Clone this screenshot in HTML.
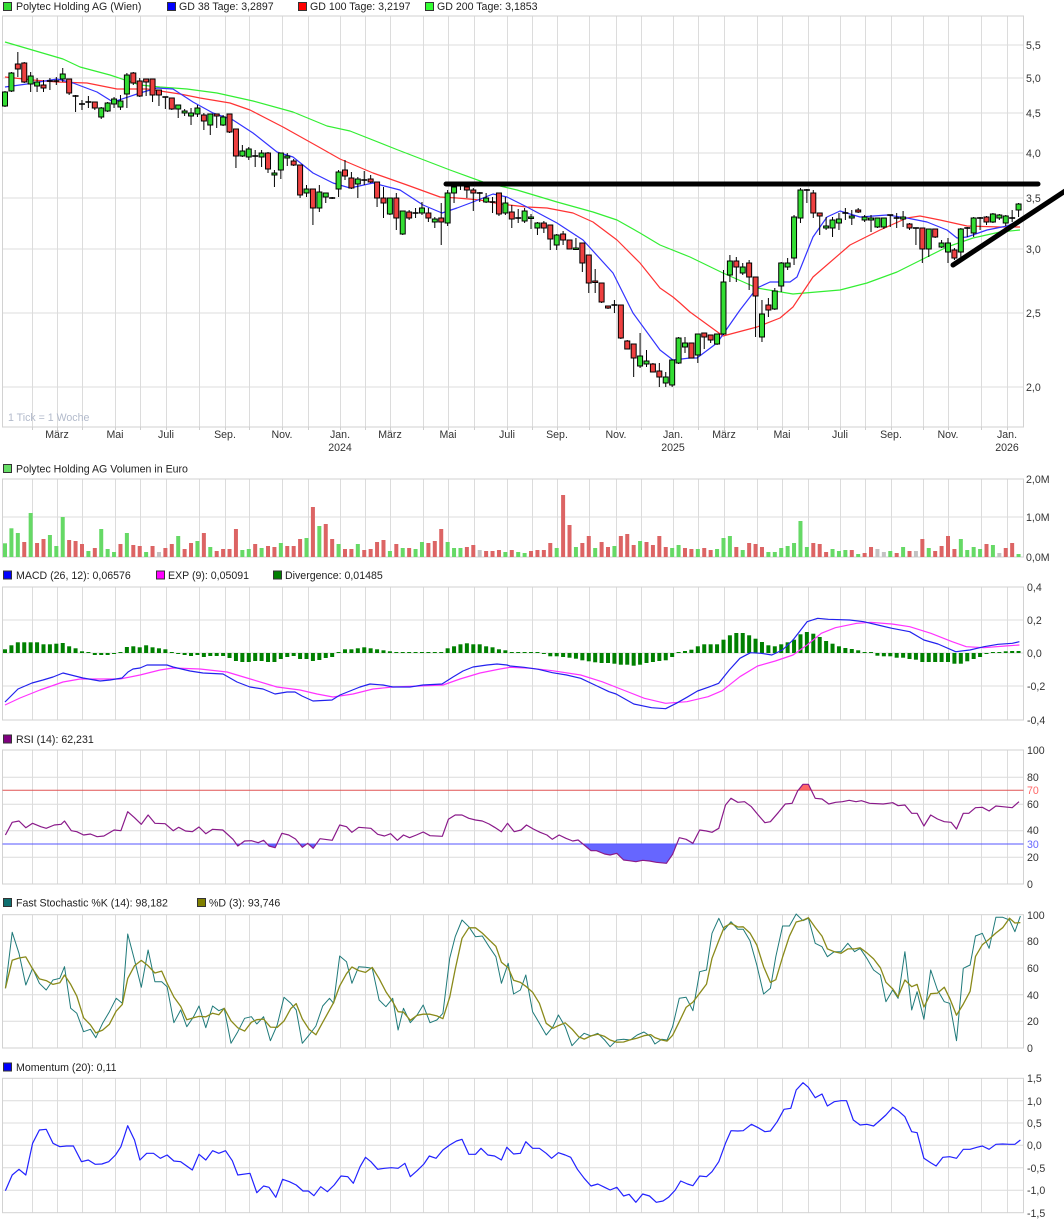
<!DOCTYPE html>
<html><head><meta charset="utf-8"><title>Polytec Holding AG Chart</title>
<style>
html,body{margin:0;padding:0;background:#fff;overflow:hidden;}
svg{display:block;}
text{font-family:"Liberation Sans",Arial,sans-serif;font-size:10.6px;fill:#222;}
.ax{fill:#333;}
.xl{text-anchor:middle;fill:#333;}
</style></head>
<body>
<svg id="c" width="1064" height="1223" viewBox="0 0 1064 1223" xmlns="http://www.w3.org/2000/svg">
<defs>
<clipPath id="cb"><rect x="0" y="844" width="1064" height="40"/></clipPath>
<clipPath id="cr"><rect x="0" y="740" width="1064" height="50.3"/></clipPath>
</defs>
<rect x="0" y="0" width="1064" height="1223" fill="#fff"/>
<g id="grid"></g>
<g id="ser"></g>
<line x1="446" y1="184" x2="1038" y2="184" stroke="#000" stroke-width="5" stroke-linecap="round"/>
<line x1="953" y1="265" x2="1075" y2="184.5" stroke="#000" stroke-width="5" stroke-linecap="round"/>

<!-- legends -->
<rect x="3.5" y="2.5" width="8" height="8" fill="#33dd33" stroke="#333"/>
<text x="16" y="10">Polytec Holding AG (Wien)</text>
<rect x="167.5" y="2.5" width="8" height="8" fill="#0000ff" stroke="#333"/>
<text x="179" y="10">GD 38 Tage: 3,2897</text>
<rect x="298.5" y="2.5" width="8" height="8" fill="#ff0000" stroke="#333"/>
<text x="310" y="10">GD 100 Tage: 3,2197</text>
<rect x="425.5" y="2.5" width="8" height="8" fill="#33ff33" stroke="#333"/>
<text x="437" y="10">GD 200 Tage: 3,1853</text>

<text x="8" y="421" style="fill:#b2bacb">1 Tick = 1 Woche</text>

<text class="ax" x="1026" y="49">5,5</text>
<text class="ax" x="1026" y="82">5,0</text>
<text class="ax" x="1026" y="117">4,5</text>
<text class="ax" x="1026" y="157">4,0</text>
<text class="ax" x="1026" y="202">3,5</text>
<text class="ax" x="1026" y="253">3,0</text>
<text class="ax" x="1026" y="317">2,5</text>
<text class="ax" x="1026" y="391">2,0</text>

<text class="xl" x="57" y="438">März</text>
<text class="xl" x="115" y="438">Mai</text>
<text class="xl" x="166" y="438">Juli</text>
<text class="xl" x="225" y="438">Sep.</text>
<text class="xl" x="282" y="438">Nov.</text>
<text class="xl" x="340" y="438">Jan.</text>
<text class="xl" x="340" y="451">2024</text>
<text class="xl" x="390" y="438">März</text>
<text class="xl" x="448" y="438">Mai</text>
<text class="xl" x="507" y="438">Juli</text>
<text class="xl" x="557" y="438">Sep.</text>
<text class="xl" x="616" y="438">Nov.</text>
<text class="xl" x="673" y="438">Jan.</text>
<text class="xl" x="673" y="451">2025</text>
<text class="xl" x="724" y="438">März</text>
<text class="xl" x="782" y="438">Mai</text>
<text class="xl" x="840" y="438">Juli</text>
<text class="xl" x="891" y="438">Sep.</text>
<text class="xl" x="948" y="438">Nov.</text>
<text class="xl" x="1007" y="438">Jan.</text>
<text class="xl" x="1007" y="451">2026</text>

<rect x="3.5" y="464.5" width="8" height="8" fill="#66dd66" stroke="#333"/>
<text x="16" y="472.5">Polytec Holding AG Volumen in Euro</text>
<text class="ax" x="1026" y="483">2,0M</text>
<text class="ax" x="1026" y="521">1,0M</text>
<text class="ax" x="1026" y="561">0,0M</text>

<rect x="3.5" y="571" width="8" height="8" fill="#0000ff" stroke="#333"/>
<text x="16" y="579">MACD (26, 12): 0,06576</text>
<rect x="156.5" y="571" width="8" height="8" fill="#ff00ff" stroke="#333"/>
<text x="168" y="579">EXP (9): 0,05091</text>
<rect x="273.5" y="571" width="8" height="8" fill="#008000" stroke="#333"/>
<text x="285" y="579">Divergence: 0,01485</text>
<text class="ax" x="1027" y="591">0,4</text>
<text class="ax" x="1027" y="624">0,2</text>
<text class="ax" x="1027" y="657">0,0</text>
<text class="ax" x="1027" y="690">-0,2</text>
<text class="ax" x="1027" y="724">-0,4</text>

<rect x="3.5" y="735" width="8" height="8" fill="#800080" stroke="#333"/>
<text x="16" y="743">RSI (14): 62,231</text>
<text class="ax" x="1027" y="754">100</text>
<text class="ax" x="1027" y="781">80</text>
<text x="1027" y="794" style="fill:#ff6666">70</text>
<text class="ax" x="1027" y="808">60</text>
<text class="ax" x="1027" y="834">40</text>
<text x="1027" y="848" style="fill:#6666ff">30</text>
<text class="ax" x="1027" y="861">20</text>
<text class="ax" x="1027" y="888">0</text>

<rect x="3.5" y="898.5" width="8" height="8" fill="#0f6f6f" stroke="#333"/>
<text x="16" y="906.5">Fast Stochastic %K (14): 98,182</text>
<rect x="197.5" y="898.5" width="8" height="8" fill="#808000" stroke="#333"/>
<text x="209" y="906.5">%D (3): 93,746</text>
<text class="ax" x="1027" y="919">100</text>
<text class="ax" x="1027" y="945">80</text>
<text class="ax" x="1027" y="972">60</text>
<text class="ax" x="1027" y="999">40</text>
<text class="ax" x="1027" y="1025">20</text>
<text class="ax" x="1027" y="1052">0</text>

<rect x="3.5" y="1063" width="8" height="8" fill="#0000ff" stroke="#333"/>
<text x="16" y="1071">Momentum (20): 0,11</text>
<text class="ax" x="1027" y="1082">1,5</text>
<text class="ax" x="1027" y="1105">1,0</text>
<text class="ax" x="1027" y="1127">0,5</text>
<text class="ax" x="1027" y="1149">0,0</text>
<text class="ax" x="1027" y="1172">-0,5</text>
<text class="ax" x="1027" y="1194">-1,0</text>
<text class="ax" x="1027" y="1217">-1,5</text>
</svg>
<script>
(function(){
var NS='http://www.w3.org/2000/svg';
function E(t,a,p){var e=document.createElementNS(NS,t);for(var k in a)e.setAttribute(k,a[k]);p.appendChild(e);return e;}
var G=document.getElementById('grid'),S=document.getElementById('ser');
function X(i){return 5+i*6.415;}
var M=[32,57,82,115,140,166,199,225,249,282,308,340,365,390,423,448,474,507,532,557,589,616,641,673,698,724,757,782,808,840,865,891,923,948,981,1007];
var P=[[16,427,[45,78,113,153,198,249,313,387]],[479,557,[517]],[587,720,[620,653,686]],[750,884,[777.3,804.3,830.7,857.3]],[914.7,1048,[941.3,968,994.7,1021.3]],[1078.3,1212.7,[1100.7,1123,1145.3,1167.7,1190.3]]];
P.forEach(function(p){
 p[2].forEach(function(y){E('line',{x1:2.5,x2:1023.5,y1:y,y2:y,stroke:'#dcdcdc','stroke-width':1},G);});
 M.forEach(function(x){E('line',{x1:x+.5,x2:x+.5,y1:p[0],y2:p[1],stroke:'#dcdcdc','stroke-width':1},G);});
 E('rect',{x:2.5,y:p[0],width:1021,height:p[1]-p[0],fill:'none',stroke:'#d2d2d2','stroke-width':1},G);
});
M.forEach(function(x){E('line',{x1:x+.5,x2:x+.5,y1:427,y2:430,stroke:'#cfcfcf'},G);});
function pl(pts,col,w,par){return E('polyline',{points:pts.map(function(p){return p[0].toFixed(1)+','+p[1].toFixed(1);}).join(' '),fill:'none',stroke:col,'stroke-width':w,'stroke-linejoin':'round'},par||S);}
// Moving averages
var G200=[[5,42],[63,59],[80,67],[110,75],[140,85],[160,87],[187,89],[217,93],[253,101],[293,112],[327,126],[350,131],[398,150],[450,170],[483,182],[517,190],[557,202],[593,212],[617,220],[640,233],[660,245],[690,257],[723,273],[757,288],[793,294],[840,290],[867,283],[897,272],[927,257],[947,247],[973,238],[1000,232],[1020,230]];
var G100=[[5,77],[33,80],[57,82],[87,83],[117,89],[147,89],[180,94],[200,98],[230,103],[250,110],[283,127],[317,146],[340,159],[373,173],[407,185],[440,197],[457,198],[480,200],[500,204],[527,207],[547,208],[573,213],[593,222],[617,240],[640,263],[660,288],[673,297],[680,303],[690,312],[723,336],[757,327],[780,318],[793,307],[813,277],[850,245],[880,230],[907,218],[920,216],[940,220],[967,226],[1000,227],[1020,227]];
var G38=[[5,87],[27,84],[57,79],[73,83],[97,92],[113,102],[140,93],[157,88],[173,89],[193,102],[213,113],[233,120],[253,133],[277,152],[293,157],[313,173],[333,183],[350,188],[373,183],[400,190],[423,205],[442,213],[457,208],[473,202],[493,194],[507,197],[527,207],[557,223],[583,240],[613,273],[633,313],[660,350],[673,360],[690,358],[697,358],[717,343],[740,310],[757,288],[770,282],[790,282],[797,277],[813,237],[827,217],[840,211],[860,217],[887,215],[907,218],[927,222],[947,230],[957,238],[967,237],[987,230],[1007,226],[1020,220]];
pl(G200,'#33ee33',1.2);pl(G100,'#ff3333',1.2);pl(G38,'#3333ff',1.2);
// Candles
var C=[[1,92,106,91,107],[1,73,91,72,92],[-1,64,69,52,77],[-1,63,82,62,83],[1,76,84,72,92],[1,82,86,78,92],[-1,85,88,80,92],[0,81,81,78,90],[0,81,81,77,85],[1,74,79,68,82],[-1,79,93,79,95],[0,96,96,95,112],[0,104,104,100,110],[0,102,102,96,108],[-1,102,108,102,110],[1,108,117,107,119],[1,103,111,102,112],[1,99,104,97,108],[1,101,107,95,110],[1,75,94,73,108],[-1,73,83,72,85],[-1,81,96,78,97],[-1,79,82,79,96],[-1,79,95,79,102],[-1,90,95,90,106],[0,97,97,97,109],[-1,98,109,98,110],[1,105,109,105,118],[1,111,113,109,116],[1,113,116,108,125],[1,108,114,105,117],[-1,115,121,113,130],[1,114,125,114,135],[-1,114,116,114,128],[1,117,125,115,126],[-1,114,132,114,133],[-1,129,156,129,168],[1,151,156,145,157],[1,149,157,147,160],[0,156,156,150,167],[1,153,157,150,167],[-1,153,169,152,173],[1,173,175,170,187],[1,153,170,153,179],[1,156,158,153,166],[-1,161,165,159,166],[-1,165,195,165,198],[1,189,193,185,197],[-1,189,208,189,225],[1,192,208,185,212],[1,193,197,193,203],[0,198,198,197,199],[1,172,189,170,197],[-1,170,176,160,180],[-1,178,188,172,189],[1,179,184,177,198],[0,180,180,171,185],[-1,179,182,175,183],[-1,182,198,182,207],[-1,198,203,187,218],[1,198,214,198,215],[-1,198,218,193,230],[1,211,234,211,235],[-1,212,218,210,220],[0,213,213,208,218],[1,208,213,202,215],[-1,213,218,208,222],[1,219,222,217,228],[-1,218,222,203,245],[1,193,223,190,226],[1,187,193,183,203],[1,183,186,182,190],[-1,187,190,182,198],[-1,190,193,188,211],[0,193,193,192,202],[1,198,202,193,203],[0,202,202,197,213],[-1,193,214,193,216],[1,203,213,197,215],[-1,212,219,205,228],[0,218,218,209,223],[1,211,221,208,223],[1,217,218,214,229],[1,223,228,222,235],[-1,223,228,221,233],[-1,225,239,225,250],[1,235,245,234,250],[-1,234,240,231,245],[-1,240,249,240,249],[1,248,249,238,249],[-1,243,263,243,272],[-1,255,283,255,293],[-1,281,282,269,293],[-1,283,302,283,303],[-1,306,308,306,309],[0,305,305,300,313],[-1,305,338,305,339],[-1,341,349,340,349],[-1,344,358,344,377],[1,356,366,333,368],[1,361,364,350,367],[-1,364,372,363,372],[-1,371,377,363,387],[1,377,383,372,387],[1,360,385,360,387],[1,338,363,337,364],[1,343,347,337,353],[-1,343,358,343,358],[1,334,355,334,363],[-1,333,337,333,349],[-1,335,340,335,343],[1,334,344,334,345],[1,282,334,270,335],[1,261,275,255,282],[-1,261,267,257,282],[1,267,273,263,275],[-1,263,277,260,290],[-1,277,296,277,337],[1,314,337,300,342],[-1,305,310,298,317],[1,291,309,288,310],[1,263,286,262,292],[1,263,267,258,270],[1,217,258,215,265],[1,190,218,188,223],[0,190,190,189,203],[-1,193,213,190,218],[-1,213,216,213,235],[1,226,228,217,230],[1,220,228,217,237],[1,219,223,213,230],[0,213,213,208,220],[1,216,218,210,225],[-1,210,212,208,213],[1,217,220,215,222],[1,218,220,215,232],[1,218,227,218,228],[1,218,227,218,229],[0,215,215,215,227],[0,218,218,213,228],[1,217,219,211,227],[-1,224,228,223,230],[0,228,228,228,245],[-1,228,249,228,263],[1,229,249,229,257],[-1,229,237,229,238],[1,243,247,240,248],[1,243,252,238,263],[-1,250,258,248,260],[1,229,252,228,257],[0,228,228,227,237],[1,218,233,217,237],[0,218,218,217,230],[-1,217,222,216,225],[1,214,222,213,223],[1,215,218,214,220],[1,216,223,215,226],[0,218,218,210,222],[1,204,210,203,217]];
C.forEach(function(c,i){var x=X(i);
 E('line',{x1:x,x2:x,y1:c[3],y2:c[4],stroke:'#000','stroke-width':1},S);
 if(c[0]===0){E('line',{x1:x-3,x2:x+3,y1:c[1],y2:c[1],stroke:'#000','stroke-width':1.6},S);}
 else{E('rect',{x:x-2.5,y:c[1],width:5,height:Math.max(c[2]-c[1],1.5),fill:c[0]>0?'#33dd33':'#ee4040',stroke:'#000','stroke-width':1},S);}
});
// Volume
var VC="GGGRGRRGGGRRRGRGGGRGRRGRNRRGRRGRGRRRRGGRGRRGRRRGRGRRGRRGRRRRGRGRGGRRRGGGRRNRRRGRGGRRRRGRRGRRGRRGRRRGRRRRGGRRGRRGGGRGRRRGGGGGGGRRRGGGRGRRNNGRGRNRGRRRRGGGGRGNRRG";
var VH=[13.7,28.7,24,15,44,14,18,22,11,40,17,16,13,6,9,28,8,5,13,24,12,11,5,11,5,9,13,21,8,14,16,24,10,6,8,8,28,7,8,13,9,11,10,14,11,11,18,19,50,31,33,18,13,8,8,13,7,8,15,17,6,13,9,9,8,15,14,16,28,15,9,9,10,12,7,6,6,7,5,7,5,4,6,7,7,14,9,62,32,10,14,21,9,15,10,11,21,23,12,16,15,12,21,10,9,12,9,8,8,9,7,8,19,21,10,7,14,13,10,5,5,9,11,14,36,10,14,13,5,8,6,7,7,3,4,10,8,5,6,4,10,6,6,18,9,6,11,21,8,18,7,10,8,13,12,4,9,14,3];
var VCol={G:'#66d966',R:'#dc6464',N:'#c2c2c2'};
VH.forEach(function(h,i){E('rect',{x:X(i)-2,y:557-h,width:4,height:h,fill:VCol[VC.charAt(i)]||'#66d966'},S);});
// MACD histogram
var MH=[3.7,7.7,10.7,10.7,10.7,10.7,8.7,8.7,9.3,10,6.7,4.7,1.7,0.7,-2,-2,-2,-0.7,1,6,6.7,5.7,7.7,5.7,4.7,3.7,1,-0.7,-2,-3,-2,-4,-3,-3,-3,-5,-8,-9,-9,-8,-8,-9,-9,-6,-4,-3,-6,-6,-8,-7,-5,-4,1,3.7,3.7,4.7,5.7,4.7,3.7,2.7,1.7,0.7,0.7,0.7,0.7,0.7,0.7,0.7,0.7,4.7,6.7,8.7,9.7,8.7,8.7,6.7,5.7,3.7,2.7,0.7,0.7,0.5,0.5,0.5,-1,-3.3,-3.3,-4,-4.7,-5.7,-7.3,-8.3,-9.3,-10,-10,-10.7,-11.7,-11.7,-12.7,-11.7,-10,-9,-8,-7.3,-4,0.5,2,3.3,6.7,8.7,8.7,8.7,13.3,17.7,20,20,17.7,14.3,11,7.7,6.7,8.7,10.7,13.3,18.7,21,19.3,16,12,9.3,6.7,5,4,2.7,0.7,0.5,-2.7,-3.3,-3.3,-4.7,-4.7,-6,-6.7,-9,-9,-9,-9,-9,-10.7,-10.7,-8.3,-6,-4,-0.7,0.5,0.5,1.7,2,2];
MH.forEach(function(v,i){var h=Math.max(Math.abs(v),1);E('rect',{x:X(i)-2,y:v>0?653-h:653,width:4,height:h,fill:'#008000'},S);});
function z10(a){return a.map(function(p){return [510+p[0]/2.827,580+p[1]/3];});}
var MB=[[5,702],[18,689],[32,683],[43,680],[53,677],[63,673],[75,676],[83,678],[100,681],[110,680],[122,678],[128,672],[133,669],[140,668],[147,665],[167,665],[173,667],[190,671],[203,673],[223,674],[237,682],[250,687],[263,689],[275,694],[287,692],[295,692],[302,696],[313,701],[332,700],[340,695],[350,691],[360,687],[370,684],[383,685],[393,687],[410,687],[423,685],[442,684],[453,677],[463,671],[473,667],[487,665],[497,664],[507,665]].concat(z10([[0,258],[40,262],[80,268],[120,278],[160,285],[200,295],[240,315],[280,335],[300,342],[350,372],[400,383],[440,386],[470,370],[500,352],[530,333],[560,322],[590,310],[620,270],[650,235],[680,218],[710,220],[740,225],[770,210],[800,180],[840,125],[870,115],[900,118],[960,120],[1000,125],[1040,135],[1080,145],[1130,155],[1170,180],[1210,192],[1260,215],[1300,210],[1340,200],[1380,193],[1420,190],[1440,185]]));
var MP=[[5,705],[20,698],[40,690],[63,682],[80,679],[100,679],[120,679],[140,675],[160,670],[173,668],[200,669],[227,672],[247,678],[277,687],[300,690],[317,694],[333,697],[353,694],[373,689],[393,687],[420,686],[443,685],[460,679],[480,673],[500,669]].concat(z10([[0,262],[60,265],[120,272],[200,285],[260,305],[320,330],[380,355],[440,370],[500,365],[560,350],[600,332],[650,290],[700,258],[750,243],[800,225],[840,195],[880,160],[920,143],[980,130],[1020,127],[1080,132],[1130,140],[1190,160],[1250,185],[1290,200],[1340,203],[1400,198],[1440,195]]));
pl(MP,'#ff33ff',1.2);pl(MB,'#2222ee',1.2);
// RSI
function zz(a,oy){return a.map(function(p){return [p[0]/1.472,oy+p[1]/3];});}
var R=zz([[8,300],[18,262],[28,258],[38,278],[48,265],[60,275],[68,280],[80,270],[90,268],[95,258],[105,287],[113,290],[123,300],[133,297],[143,305],[153,303],[168,285],[178,287],[188,230],[198,248],[208,268],[218,240],[228,265],[243,266],[255,287],[263,277],[273,288],[283,290],[293,276],[303,296],[313,283],[328,285],[343,313],[350,333],[360,318],[370,317],[380,323],[388,316],[396,333],[405,338],[415,295],[425,300],[435,312],[445,337],[453,325],[461,340],[471,311],[489,316],[500,270],[510,275],[518,292],[528,277],[546,280],[556,298],[566,303],[575,296],[585,316],[594,300],[603,308],[613,300],[623,291],[633,302],[651,304],[660,253],[670,240],[680,240],[690,250],[700,255],[710,258],[720,267],[728,277],[738,290],[747,265],[757,290],[767,285],[775,270],[785,282],[795,292],[805,300],[813,313],[823,300],[833,310],[843,318],[851,315],[860,330],[870,347],[878,347],[890,357],[898,360],[908,355],[918,375],[926,377],[936,380],[946,376],[956,378],[966,382],[981,385],[990,358],[1000,308],[1010,313],[1020,325],[1030,285],[1040,288],[1048,292],[1058,280],[1068,210],[1076,190],[1086,202],[1096,200],[1106,215],[1116,240],[1126,263],[1134,260],[1146,232],[1156,207],[1166,205],[1174,168],[1182,148],[1190,148],[1200,190],[1210,192],[1220,207],[1230,202],[1240,200],[1250,196],[1260,200],[1268,197],[1280,205],[1300,207],[1314,203],[1322,212],[1332,210],[1342,235],[1350,235],[1360,273],[1370,240],[1380,252],[1390,260],[1400,262],[1408,282],[1418,235],[1426,235],[1436,218],[1446,217],[1456,228],[1466,213],[1476,215],[1490,218],[1500,200]],735);
function poly(pts,yb){var a=pts.slice();a.push([pts[pts.length-1][0],yb]);a.unshift([pts[0][0],yb]);return a.map(function(p){return p[0].toFixed(1)+','+p[1].toFixed(1);}).join(' ');}
E('polygon',{points:poly(R,844),fill:'#6666ff','clip-path':'url(#cb)'},S);
E('polygon',{points:poly(R,790.3),fill:'#ff6666','clip-path':'url(#cr)'},S);
E('line',{x1:2.5,x2:1023.5,y1:790.3,y2:790.3,stroke:'#e05555','stroke-width':1},S);
E('line',{x1:2.5,x2:1023.5,y1:844,y2:844,stroke:'#5555ff','stroke-width':1},S);
pl(R,'#8a1a8a',1.2);
// Stochastic
var KZ=[[8,265],[18,97],[28,160],[38,255],[48,205],[58,250],[68,270],[78,240],[88,235],[95,200],[104,325],[113,340],[123,395],[133,388],[141,413],[151,370],[161,335],[171,295],[180,310],[188,102],[198,180],[208,262],[218,150],[228,245],[238,245],[246,260],[256,368],[266,330],[275,380],[285,350],[293,318],[303,383],[313,318],[322,332],[330,325],[340,430],[350,395],[360,355],[370,350],[378,372],[388,350],[398,422],[408,375],[418,292],[428,310],[436,330],[445,430],[455,405],[465,378],[475,318],[485,295],[491,310],[500,168],[510,185],[518,250],[528,200],[538,202],[548,205],[558,300],[568,320],[578,295],[586,390],[594,325],[604,368],[614,345],[623,315],[633,368],[643,360],[652,340],[662,175],[670,110],[680,60],[690,80],[700,110],[710,108],[720,140],[730,170],[738,250],[748,190],[756,282],[766,270],[774,225],[784,335],[794,370],[804,405],[814,380],[822,345],[832,380],[842,437],[852,415],[860,400],[870,408],[880,400],[890,420],[898,440],[908,420],[918,418],[928,420],[938,405],[948,396],[958,410],[964,432],[974,418],[982,420],[990,380],[1000,295],[1010,292],[1020,332],[1030,215],[1040,210],[1048,100],[1058,55],[1066,90],[1076,65],[1086,88],[1094,88],[1104,122],[1114,195],[1124,282],[1134,265],[1142,170],[1152,78],[1162,78],[1172,42],[1182,62],[1190,55],[1200,130],[1210,140],[1218,170],[1228,155],[1238,155],[1248,130],[1258,155],[1266,145],[1276,175],[1286,210],[1296,225],[1304,305],[1314,270],[1322,295],[1332,155],[1342,330],[1350,275],[1360,358],[1370,210],[1380,270],[1390,305],[1398,310],[1408,422],[1418,205],[1428,195],[1436,108],[1446,100],[1456,145],[1466,52],[1476,52],[1486,60],[1494,95],[1502,48]];
var DZ=KZ.map(function(p,j){var s=0,n=0;for(var k=Math.max(0,j-2);k<=j;k++){s+=KZ[k][1];n++;}return [p[0],s/n];});
pl(zz(KZ,900),'#1f7a7a',1);
pl(zz(DZ,900),'#8a8a1a',1.3);
// Momentum
var MO=[[8,872],[18,825],[28,808],[38,825],[48,730],[58,690],[68,688],[78,730],[88,740],[98,738],[108,738],[120,785],[130,780],[140,793],[150,792],[160,785],[170,765],[178,740],[188,677],[198,720],[206,780],[216,760],[226,760],[236,775],[246,765],[256,783],[266,785],[283,810],[293,763],[303,780],[313,752],[322,760],[332,752],[342,782],[350,825],[368,820],[378,878],[388,858],[396,862],[406,892],[416,838],[426,845],[436,855],[446,873],[454,873],[462,887],[472,860],[482,875],[492,855],[502,828],[512,830],[520,850],[530,800],[538,772],[546,785],[556,808],[566,805],[576,803],[586,805],[596,790],[604,830],[614,812],[624,792],[632,768],[642,775],[652,750],[662,735],[672,723],[680,718],[690,763],[700,763],[708,745],[718,765],[728,768],[738,780],[746,742],[756,762],[766,760],[774,725],[784,745],[794,745],[804,760],[812,775],[822,758],[832,765],[840,772],[850,808],[860,835],[870,858],[880,852],[890,862],[898,870],[908,862],[918,888],[926,883],[936,907],[946,882],[956,888],[966,907],[976,903],[984,892],[994,870],[1002,843],[1012,852],[1020,857],[1030,828],[1040,830],[1048,815],[1058,785],[1068,730],[1076,692],[1086,693],[1094,692],[1106,673],[1116,683],[1126,695],[1134,693],[1144,665],[1154,628],[1164,625],[1172,570],[1182,548],[1190,562],[1200,593],[1210,582],[1218,618],[1228,605],[1238,602],[1246,602],[1256,660],[1266,675],[1276,673],[1286,678],[1296,660],[1304,645],[1314,622],[1322,632],[1332,650],[1342,695],[1350,698],[1360,775],[1370,788],[1378,798],[1388,772],[1398,770],[1408,775],[1418,748],[1428,748],[1438,742],[1446,738],[1456,748],[1466,733],[1476,732],[1486,733],[1494,733],[1502,720]];
pl(zz(MO,900),'#2222ff',1.2);
})();
</script>
</body></html>
